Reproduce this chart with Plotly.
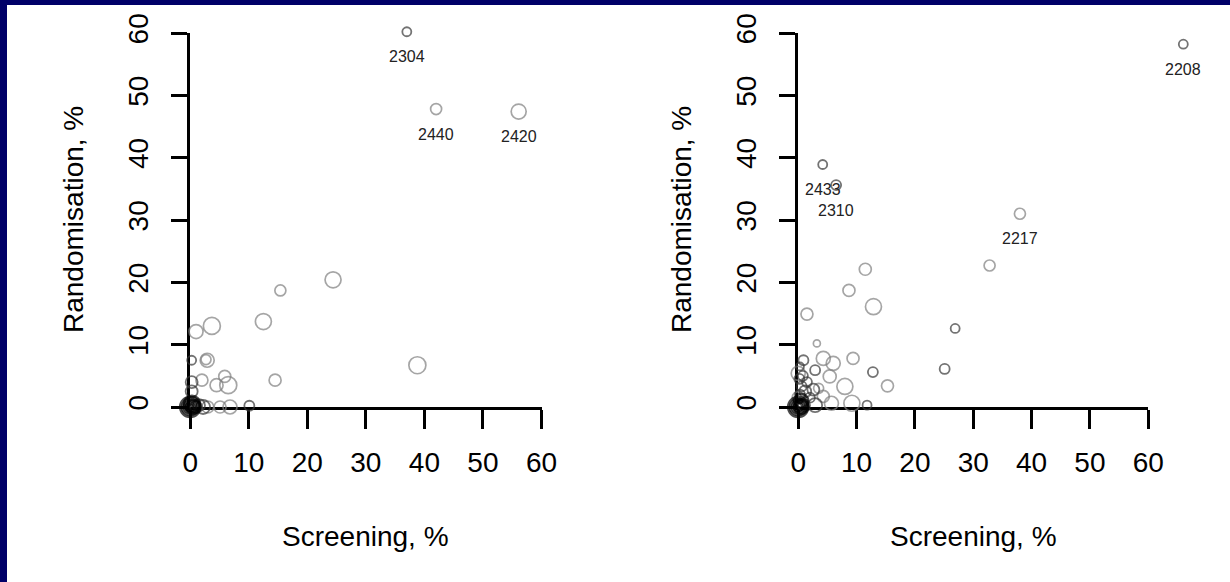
import plotly.graph_objects as go

# ---------------- data ----------------
# Left panel: screening % vs randomisation %
L_x = [37.0, 42.0, 56.1, 24.4, 15.4, 12.5, 3.7, 1.0, 38.8, 14.5,
       0.25, 2.9, 2.7, 2.0, 4.5, 5.9, 6.5, 0.25, 0.25, 10.1,
       6.8, 5.1, 3.0, 2.2, 0.0, 0.0, 0.0, 0.0, 0.5, 1.0, 1.5, 0.3, 0.0]
L_y = [60.2, 47.8, 47.4, 20.4, 18.7, 13.7, 13.0, 12.1, 6.7, 4.3,
       7.5, 7.5, 7.6, 4.3, 3.5, 4.9, 3.5, 2.5, 4.0, 0.2,
       0.0, 0.0, 0.0, 0.0, 0.0, 0.0, 0.0, 0.0, 0.0, 0.0, 0.3, 0.5, 0.0]
L_w = [9, 11, 15, 16, 11, 16, 17, 14, 17, 12,
       9, 14, 10, 12, 13, 12, 17, 12, 12, 10,
       14, 12, 12, 14, 20, 16, 12, 8, 14, 12, 12, 16, 4]
L_shade = ["d", "g", "g", "g", "g", "g", "g", "g", "g", "g",
           "d", "g", "g", "g", "g", "g", "g", "d", "d", "d",
           "g", "g", "g", "d", "k", "k", "k", "k", "k", "d", "d", "k", "k"]
L_label_idx = [0, 1, 2]
L_labels = ["2304", "2440", "2420"]

# Right panel
R_x = [66.0, 4.2, 6.5, 38.0, 32.8, 11.5, 8.7, 12.9, 1.5, 26.9,
       3.2, 9.4, 4.3, 6.0, 25.1, 12.8, 15.3, 8.0, 9.2, 11.8,
       5.7, 0.9, 0.0, 2.9, 5.4, 0.6, 2.6, 4.3, 2.9, 0.3,
       0.2, 1.5, 2.0, 0.0, 3.5, 0.0, 0.0, 0.0, 0.0, 0.5, 1.0, 0.3,
       0.3, 0.8, 1.2, 0.5]
R_y = [58.2, 38.9, 35.6, 31.0, 22.7, 22.1, 18.7, 16.1, 14.9, 12.6,
       10.2, 7.8, 7.8, 7.0, 6.1, 5.6, 3.4, 3.3, 0.6, 0.3,
       0.6, 7.5, 5.4, 5.9, 4.9, 3.3, 2.8, 1.7, 0.3, 6.5,
       4.5, 4.0, 1.5, 1.5, 3.0, 0.0, 0.0, 0.0, 0.0, 0.0, 0.3, 1.0,
       2.0, 5.0, 2.5, 1.0]
R_w = [9, 9, 10, 11, 11, 12, 12, 16, 12, 9,
       7, 12, 14, 14, 10, 10, 12, 16, 16, 9,
       14, 10, 14, 10, 13, 10, 12, 12, 14, 8,
       10, 10, 10, 12, 10, 20, 16, 12, 8, 14, 12, 4,
       10, 10, 12, 14]
R_shade = ["d", "d", "d", "g", "g", "g", "g", "g", "g", "d",
           "g", "g", "g", "g", "d", "d", "g", "g", "g", "d",
           "g", "d", "g", "d", "g", "d", "d", "g", "d", "d",
           "d", "d", "d", "g", "g", "k", "k", "k", "k", "k", "d", "k",
           "d", "d", "d", "k"]
R_label_idx = [0, 1, 2, 3]
R_labels = ["2208", "2433", "2310", "2217"]

AXIS_MAX = 60
X_TICKS = [0, 10, 20, 30, 40, 50, 60]
Y_TICKS = [0, 10, 20, 30, 40, 50, 60]
X_TITLE = "Screening, %"
Y_TITLE = "Randomisation, %"

# ---------------- style ----------------
W, H = 1230, 582
SHADE = {"g": "#808080", "d": "#383838", "k": "#000000"}
LW = {"g": 1.7, "d": 1.8, "k": 2.6}
FONT = "Liberation Sans, Arial, Helvetica, sans-serif"
NAVY = "#000068"

left_dom = [190.2 / W, 541.5 / W]
right_dom = [798.2 / W, 1148.3 / W]
y_dom = [(H - 407) / H, (H - 33) / H]


def ext_domain(dom, vmax):
    # domain of a hidden data axis that shares the 0..60 pixel scale of the visible axis
    span = (dom[1] - dom[0]) * vmax / AXIS_MAX
    return [dom[0], dom[0] + span]


fig = go.Figure()


def add_panel(xs, ys, ws, shades, xa, ya):
    order = sorted(range(len(xs)), key=lambda i: {"g": 0, "d": 1, "k": 2}[shades[i]])
    fig.add_trace(go.Scatter(
        x=[xs[i] for i in order], y=[ys[i] for i in order],
        mode="markers", xaxis=xa, yaxis=ya, cliponaxis=False,
        hoverinfo="x+y", showlegend=False,
        marker=dict(symbol="circle", size=[ws[i] for i in order],
                    color="rgba(0,0,0,0)",
                    line=dict(color=[SHADE[shades[i]] for i in order],
                              width=[LW[shades[i]] for i in order])),
    ))


# empty traces so the visible axes render
for xa, ya in (("x", "y"), ("x2", "y2")):
    fig.add_trace(go.Scatter(x=[None], y=[None], xaxis=xa, yaxis=ya,
                             showlegend=False, hoverinfo="skip"))

add_panel(L_x, L_y, L_w, L_shade, "x3", "y3")
add_panel(R_x, R_y, R_w, R_shade, "x4", "y4")

annotations = []
lab_font = dict(size=16, family=FONT, color="#222222")
for idx, lab in zip(L_label_idx, L_labels):
    annotations.append(dict(x=L_x[idx], y=L_y[idx], xref="x3", yref="y3", text=lab,
                            showarrow=False, yshift=-25, font=lab_font))
for idx, lab in zip(R_label_idx, R_labels):
    annotations.append(dict(x=R_x[idx], y=R_y[idx], xref="x4", yref="y4", text=lab,
                            showarrow=False, yshift=-25, font=lab_font))

title_font = dict(size=28, family=FONT, color="black")
for dom, ytx in ((left_dom, 73), (right_dom, 681)):
    annotations.append(dict(x=(dom[0] + dom[1]) / 2, y=(H - 536) / H, xref="paper", yref="paper",
                            text=X_TITLE, showarrow=False, font=title_font,
                            xanchor="center", yanchor="middle"))
    annotations.append(dict(x=ytx / W, y=(H - 220) / H, xref="paper", yref="paper",
                            text=Y_TITLE, showarrow=False, font=title_font, textangle=-90,
                            xanchor="center", yanchor="middle"))


def xaxis(dom, anchor):
    return dict(domain=dom, anchor=anchor, range=[0, AXIS_MAX], tickvals=X_TICKS,
                showline=True, linecolor="black", linewidth=3,
                ticks="outside", ticklen=19, tickwidth=3, tickcolor="black",
                showgrid=False, zeroline=False, ticklabelstandoff=9, automargin=False,
                tickfont=dict(size=28, family=FONT, color="black"), fixedrange=True)


def yaxis(anchor):
    return dict(domain=y_dom, anchor=anchor, range=[0, AXIS_MAX], tickvals=Y_TICKS,
                showline=True, linecolor="black", linewidth=3,
                ticks="outside", ticklen=16, tickwidth=3, tickcolor="black",
                showgrid=False, zeroline=False, tickangle=-90, ticklabelstandoff=12,
                automargin=False,
                tickfont=dict(size=28, family=FONT, color="black"), fixedrange=True)


def hidden(dom, vmax, anchor):
    return dict(domain=ext_domain(dom, vmax), range=[0, vmax], anchor=anchor,
                visible=False, showgrid=False, zeroline=False, automargin=False,
                fixedrange=True)


fig.update_layout(
    template="none",
    width=W, height=H, autosize=False,
    margin=dict(l=0, r=0, t=0, b=0, pad=0, autoexpand=False),
    paper_bgcolor="white", plot_bgcolor="rgba(0,0,0,0)",
    showlegend=False,
    xaxis=xaxis(left_dom, "y"), yaxis=yaxis("x"),
    xaxis2=xaxis(right_dom, "y2"), yaxis2=yaxis("x2"),
    xaxis3=hidden(left_dom, 62, "y3"), yaxis3=hidden(y_dom, 62, "x3"),
    xaxis4=hidden(right_dom, 68, "y4"), yaxis4=hidden(y_dom, 62, "x4"),
    annotations=annotations,
    shapes=[
        dict(type="rect", xref="paper", yref="paper", x0=0, x1=7 / W, y0=0, y1=1,
             fillcolor=NAVY, line=dict(width=0), layer="above"),
        dict(type="rect", xref="paper", yref="paper", x0=0, x1=1, y0=1 - 5 / H, y1=1,
             fillcolor=NAVY, line=dict(width=0), layer="above"),
    ],
)

fig.write_html("out.html")
